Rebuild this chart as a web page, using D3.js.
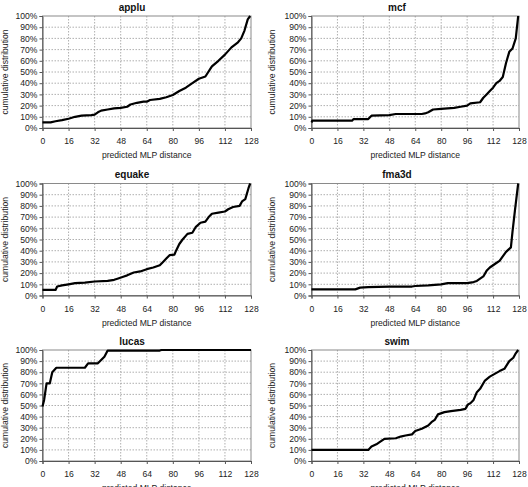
<!DOCTYPE html>
<html><head><meta charset="utf-8">
<script src="https://cdn.jsdelivr.net/npm/d3@7"></script>
<style>
html,body{margin:0;padding:0;background:#fff;}
svg{display:block;font-family:"Liberation Sans",Arial,sans-serif;}
</style></head>
<body><svg id="c" width="528" height="487"></svg>
<script>
// ---- data ----
const xTicks = [0,16,32,48,64,80,96,112,128];
const yTicks = [0,10,20,30,40,50,60,70,80,90,100];
const titles = ["applu","mcf","equake","fma3d","lucas","swim"];
const xLabel = "predicted MLP distance";
const yLabel = "cumulative distribution";

const applu = [[0,5],[5,5],[8,6],[12,7],[16,8.3],[20,10],[24,11],[30,11.5],[32,12],[34,14],[36,15.5],[40,16.5],[44,17.5],[48,18],[52,19],[54,21],[58,22.5],[62,23.5],[64,23.5],[66,25],[72,26],[76,27.5],[80,29.5],[84,33],[88,36],[92,40],[96,44],[100,46],[104,55],[108,60],[112,65.5],[116,72],[120,76.5],[122,80],[124,87],[126,97],[127.5,100]];
const mcf = [[0,5],[0.5,6.5],[25,6.5],[26,8],[35,8],[37,11],[48,11.5],[52,12.5],[68,12.5],[70,13],[72,14],[75,16.5],[80,17],[88,18],[92,19],[96,20],[98,22],[104,23],[106,27],[108,30],[110,33],[112,36],[114,40],[116,42],[118,45.5],[120,58],[122,68],[124,71],[126,80],[127.5,100]];
const equake = [[0,5],[8,5],[9,8],[12,9],[16,10],[20,11],[26,11.5],[32,12.5],[40,13],[44,14],[46,15],[50,17],[52,18],[56,20.5],[60,21.5],[64,23.5],[68,25],[72,27],[74,30],[76,33],[78,36],[81,36.5],[82,40],[84,46],[86,50],[89,55],[92,56],[94,61],[97,65],[100,66],[102,70],[104,73],[108,74],[112,75],[114,77],[117,79],[121,80],[122.5,84],[124.5,86],[126.5,96],[127.5,100]];
const fma3d = [[0,5.5],[27,5.5],[30,7],[35,7.5],[48,8],[62,8],[64,8.5],[72,9],[80,10],[84,11],[96,11],[100,12],[102,13],[104,15],[106,17],[108,22],[110,25],[114,29],[116,31],[118,35],[120,39],[121.5,41],[123,43],[124,57],[125.5,76],[127.5,100]];
const lucas = [[0,49],[1,55],[2.5,70],[4.5,70],[6,80],[8.5,84],[26,84],[28,88],[34,88],[36,91],[38,94],[40,99.5],[72,99.5],[73,100],[128,100]];
const swim = [[0,10],[35,10],[37,13],[40,15],[42,17],[45,20],[52,20.5],[55,22],[58,23],[62,24],[64,27],[68,29],[72,32],[74,35],[76,37],[78,42],[82,44],[86,45],[92,46],[95,47],[96.5,51],[98,52],[100,55],[102,62],[104,65],[107,72.5],[110,76],[113,78.5],[116,81],[119,83],[122,90],[124.5,93],[126,97],[127.5,100]];
const series = [applu, mcf, equake, fma3d, lucas, swim];

// ---- layout ----
const cols = [{l:42.5, r:251, cx:132}, {l:311.5, r:519, cx:397}];
const rows = [{t:16, b:128, ty:11}, {t:183.5, b:295.5, ty:178}, {t:350, b:461, ty:345}];
const yLabX = [5, 272];

const svg = d3.select("#c");

series.forEach((data, i) => {
  const col = cols[i % 2], row = rows[Math.floor(i / 2)];
  const x = d3.scaleLinear().domain([0,128]).range([col.l, col.r]);
  const y = d3.scaleLinear().domain([0,100]).range([row.b, row.t]);
  const g = svg.append("g");

  // gridlines
  g.selectAll(".hg").data(yTicks.filter(v => v > 0 && v < 100)).join("line")
    .attr("x1", col.l).attr("x2", col.r).attr("y1", d => y(d)).attr("y2", d => y(d))
    .attr("stroke", "#9a9a9a").attr("stroke-width", 0.8).attr("stroke-dasharray", "1.5,1.5");
  g.selectAll(".vg").data(xTicks.filter(v => v > 0 && v < 128)).join("line")
    .attr("y1", row.t).attr("y2", row.b).attr("x1", d => x(d)).attr("x2", d => x(d))
    .attr("stroke", "#9a9a9a").attr("stroke-width", 0.8).attr("stroke-dasharray", "1.5,1.5");

  // border
  g.append("rect").attr("x", col.l).attr("y", row.t)
    .attr("width", col.r - col.l).attr("height", row.b - row.t)
    .attr("fill", "none").attr("stroke", "#8a8a8a").attr("stroke-width", 1);

  // axes
  const yAxis = d3.axisLeft(y).tickValues(yTicks).tickSize(3).tickPadding(2).tickFormat(d => d + "%");
  const ya = g.append("g").attr("transform", `translate(${col.l},0)`).call(yAxis);
  const xAxis = d3.axisBottom(x).tickValues(xTicks).tickSize(3).tickPadding(7);
  const xa = g.append("g").attr("transform", `translate(0,${row.b})`).call(xAxis);
  [ya, xa].forEach(a => {
    a.select(".domain").attr("stroke", "#555");
    a.selectAll(".tick line").attr("stroke", "#555");
    a.selectAll("text").attr("fill", "#222").attr("font-size", "8.6px")
      .attr("font-family", "'Liberation Sans',Arial,sans-serif");
  });

  // line
  const line = d3.line().x(d => x(d[0])).y(d => y(d[1]));
  g.append("path").datum(data).attr("d", line)
    .attr("fill", "none").attr("stroke", "#000").attr("stroke-width", 2.2)
    .attr("stroke-linejoin", "round");

  // title
  g.append("text").attr("x", col.cx).attr("y", row.ty).attr("text-anchor", "middle")
    .attr("font-weight", "bold").attr("font-size", "10px").attr("fill", "#111").text(titles[i]);

  // x label
  g.append("text").attr("x", (col.l + col.r) / 2).attr("y", row.b + 30)
    .attr("text-anchor", "middle").attr("font-size", "8.6px").attr("fill", "#222").text(xLabel);

  // y label
  const ly = (row.t + row.b) / 2;
  g.append("text").attr("transform", `translate(${yLabX[i % 2] + 3},${ly}) rotate(-90)`)
    .attr("text-anchor", "middle").attr("font-size", "8.6px").attr("fill", "#222").text(yLabel);
});
</script></body></html>
